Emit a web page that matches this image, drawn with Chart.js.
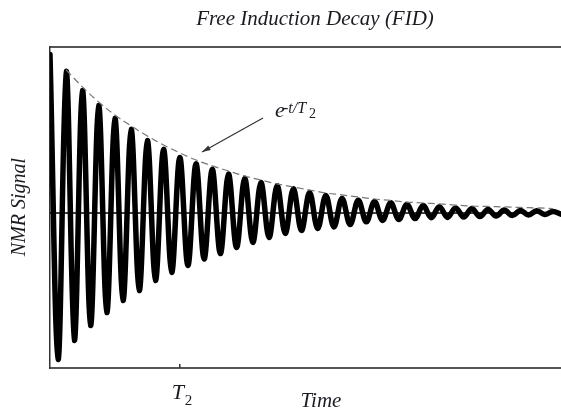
<!DOCTYPE html>
<html lang="en">
<head>
<meta charset="UTF-8">
<title>Free Induction Decay (FID)</title>
<script src="https://cdn.jsdelivr.net/npm/chart.js"></script>
<style>
  html, body { margin: 0; padding: 0; background: #fff; }
  #wrap { width: 561px; height: 410px; }
</style>
</head>
<body>
<div id="wrap"><canvas id="fidChart" width="561" height="410"></canvas></div>
<script>
// time in oscillation periods, signal normalised to the first peak
const peakTimes = [0, 1, 2, 3, 4, 5, 6, 7, 8, 9, 10, 11, 12, 13, 14, 15,
  16, 17, 18, 19, 20, 21, 22, 23, 24, 25, 26, 27, 28, 29, 30, 31];
const peakValues = [1.0, 0.893, 0.773, 0.678, 0.596, 0.527, 0.457, 0.401,
  0.35, 0.31, 0.275, 0.245, 0.218, 0.192, 0.172, 0.152, 0.129, 0.11, 0.092,
  0.08, 0.072, 0.064, 0.054, 0.047, 0.04, 0.032, 0.028, 0.022, 0.018, 0.016,
  0.014, 0.01];
const troughTimes = [0.5, 1.5, 2.5, 3.5, 4.5, 5.5, 6.5, 7.5, 8.5, 9.5, 10.5,
  11.5, 12.5, 13.5, 14.5, 15.5, 16.5, 17.5, 18.5, 19.5, 20.5, 21.5, 22.5,
  23.5, 24.5, 25.5, 26.5, 27.5, 28.5, 29.5, 30.5, 31.5];
const troughValues = [-0.924, -0.804, -0.71, -0.628, -0.552, -0.489, -0.426,
  -0.375, -0.331, -0.29, -0.256, -0.218, -0.186, -0.155, -0.129, -0.11,
  -0.098, -0.088, -0.073, -0.056, -0.047, -0.041, -0.035, -0.03, -0.028,
  -0.026, -0.022, -0.019, -0.016, -0.013, -0.01, -0.007];

// dashed e^(-t/T2) envelope read along the peak tops
const envelopeTimes = [1, 2, 3, 4, 5, 6, 7, 8, 9, 10, 11, 12, 13, 14, 15, 16,
  17, 18, 19, 20, 21, 22, 23, 24, 25, 26, 27, 28, 29, 30, 31];
const envelopeValues = [0.902, 0.795, 0.7, 0.618, 0.549, 0.486, 0.429, 0.379,
  0.334, 0.297, 0.265, 0.233, 0.208, 0.183, 0.164, 0.145, 0.126, 0.114, 0.101,
  0.088, 0.079, 0.069, 0.063, 0.057, 0.05, 0.044, 0.041, 0.038, 0.035, 0.032,
  0.028];

const baselineTimes = [0, 31.5];
const baselineValues = [0, 0];

const tickTimes = [8];       // T2
const tickLabels = ['T', '2'];

const signal = [];
peakTimes.forEach((t, i) => {
  signal.push({ x: t, y: peakValues[i] });
  signal.push({ x: troughTimes[i], y: troughValues[i] });
});
const envelope = envelopeTimes.map((t, i) => ({ x: t, y: envelopeValues[i] }));
const baseline = baselineTimes.map((t, i) => ({ x: t, y: baselineValues[i] }));

const serif = '"Liberation Serif", "Times New Roman", serif';
const ink = '#1b1b22';

// texts, T2 tick and arrow
const labelsPlugin = {
  id: 'fidLabels',
  afterDraw(chart) {
    const { ctx, chartArea, scales } = chart;
    const x = scales.x, y = scales.y;
    ctx.save();
    ctx.fillStyle = ink;
    ctx.textBaseline = 'alphabetic';

    // title
    ctx.font = 'italic 21px ' + serif;
    ctx.textAlign = 'center';
    ctx.fillText('Free Induction Decay (FID)', 315, 25);

    // x title
    ctx.fillText('Time', 321, 407);

    // y title
    ctx.save();
    ctx.translate(25, 207);
    ctx.rotate(-Math.PI / 2);
    ctx.font = 'italic 20px ' + serif;
    ctx.fillText('NMR Signal', 0, 0);
    ctx.restore();

    // T2 tick and label
    tickTimes.forEach((t) => {
      const px = x.getPixelForValue(t);
      ctx.strokeStyle = '#333';
      ctx.lineWidth = 1.5;
      ctx.beginPath();
      ctx.moveTo(px, chartArea.bottom - 4);
      ctx.lineTo(px, chartArea.bottom);
      ctx.stroke();
      ctx.textAlign = 'left';
      ctx.font = 'italic 22px ' + serif;
      ctx.fillText(tickLabels[0], px - 8, 399);
      ctx.font = '15px ' + serif;
      ctx.fillText(tickLabels[1], px + 5, 405);
    });

    // e^{-t/T2}
    ctx.textAlign = 'left';
    ctx.font = 'italic 22px ' + serif;
    ctx.fillText('e', 275, 117);
    ctx.font = 'italic 16px ' + serif;
    ctx.fillText('-t/T', 283, 113);
    ctx.font = '14px ' + serif;
    ctx.fillText('2', 309, 118);

    // arrow to the envelope
    const tipX = x.getPixelForValue(9.37), tipY = y.getPixelForValue(0.385);
    const tailX = 263, tailY = 118;
    const ang = Math.atan2(tipY - tailY, tipX - tailX);
    ctx.strokeStyle = '#333';
    ctx.lineWidth = 1.2;
    ctx.beginPath();
    ctx.moveTo(tailX, tailY);
    ctx.lineTo(tipX, tipY);
    ctx.stroke();
    ctx.fillStyle = '#333';
    ctx.beginPath();
    ctx.moveTo(tipX, tipY);
    ctx.lineTo(tipX - 9 * Math.cos(ang - 0.3), tipY - 9 * Math.sin(ang - 0.3));
    ctx.lineTo(tipX - 9 * Math.cos(ang + 0.3), tipY - 9 * Math.sin(ang + 0.3));
    ctx.closePath();
    ctx.fill();
    ctx.restore();
  }
};

new Chart(document.getElementById('fidChart'), {
  type: 'line',
  data: {
    datasets: [
      {
        label: 'baseline',
        data: baseline,
        borderColor: '#000',
        borderWidth: 1.4,
        pointRadius: 0,
        tension: 0
      },
      {
        label: 'envelope',
        data: envelope,
        borderColor: '#777',
        borderWidth: 1.2,
        borderDash: [7, 4],
        pointRadius: 0,
        tension: 0.4
      },
      {
        label: 'FID',
        data: signal,
        borderColor: '#000',
        borderWidth: 5.5,
        borderCapStyle: 'round',
        borderJoinStyle: 'round',
        pointRadius: 0,
        tension: 0.36
      }
    ]
  },
  options: {
    responsive: false,
    animation: false,
    devicePixelRatio: 1,
    layout: { padding: { left: 50, right: 0, top: 47, bottom: 42 } },
    plugins: {
      legend: { display: false },
      tooltip: { enabled: false },
      title: { display: false }
    },
    scales: {
      x: {
        type: 'linear',
        min: 0,
        max: 31.5,
        ticks: { display: false },
        grid: { display: false, drawTicks: false },
        border: { display: true, color: '#555', width: 2 }
      },
      x2: {
        type: 'linear',
        axis: 'x',
        position: 'top',
        min: 0,
        max: 1,
        ticks: { display: false },
        grid: { display: false, drawTicks: false },
        border: { display: true, color: '#555', width: 2 }
      },
      y: {
        min: -0.978,
        max: 1.047,
        ticks: { display: false },
        grid: { display: false, drawTicks: false },
        border: { display: true, color: '#333', width: 1.5 }
      }
    }
  },
  plugins: [labelsPlugin]
});
</script>
</body>
</html>
